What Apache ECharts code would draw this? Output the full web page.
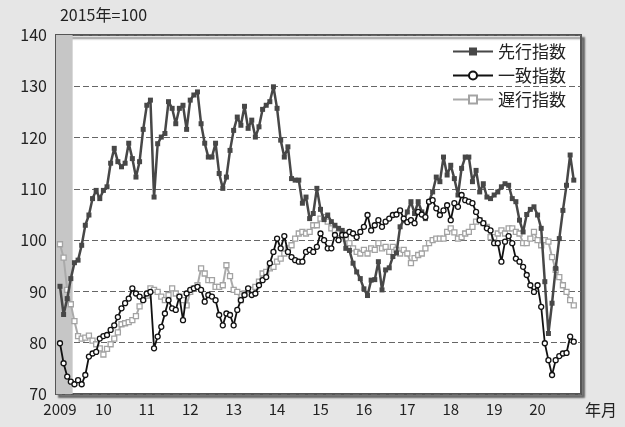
<!DOCTYPE html>
<html><head><meta charset="utf-8">
<script src="https://cdn.jsdelivr.net/npm/echarts@6/dist/echarts.min.js"></script>
<style>html,body{margin:0;padding:0;background:#e6e6e6}#c{width:625px;height:427px}</style>
</head><body><div id="c"></div>
<script>
const xTickLabels = ['2009','10','11','12','13','14','15','16','17','18','19','20'];
const seriesNames = ['先行指数','一致指数','遅行指数'];
// monthly values, Jan 2009 - Nov 2020
const leading = [91,85.5,88.6,92.5,95.6,96.1,99,102.9,104.9,108.1,109.7,108.1,
109.7,110.4,115,117.9,115.3,114.3,115,118.9,115.9,112.3,115.3,121.6,
126.3,127.3,108.4,118.8,120.1,120.8,127,125.7,122.7,125.7,126.3,121.6,
127.3,128.3,128.9,122.7,118.9,116.2,116.2,118.9,113,110.1,112.3,117.5,
121.4,124,122.4,126.1,121.8,123.4,120.1,122.1,125.5,126.3,127,129.9,
125.7,119.5,116.2,118.2,112,111.7,111.7,107.2,108.4,104.2,105.2,110.1,
106,104,104.9,103.6,102.9,102.3,101.9,98.4,98,95.5,93.8,92.5,
90.5,89.2,92.2,92.3,95.8,90.3,94.2,94.6,96.8,97.5,102.6,103.9,
105.5,107.5,105.2,107.5,105.5,104.2,107.5,109.4,112.3,111.4,116.2,112.7,
114.6,112,108.8,114,116.2,116.2,111.4,113.6,109.4,111,108.4,108.1,
108.8,109.4,110.4,111,110.7,108.1,107.5,103.9,101.6,105,106,106.5,
104.9,102.3,91.9,81.8,87.7,94.5,100.3,105.8,110.7,116.6,111.7];
const coincident = [79.9,76,73.4,72.4,71.9,72.7,71.9,73.7,77.3,77.9,78.2,80.8,
81.3,81.5,82.5,83.4,85,86.7,87.7,88.6,90.6,89.6,89,88.3,
89.6,89.9,78.9,81.2,83.1,85.7,88.3,86.7,86.4,89,84.4,89.6,
90.3,90.6,90.9,90.3,88,89.3,89,88.3,85.4,83.4,85.7,85.4,
83.4,86.4,88.3,89.3,90.6,89.3,89.6,91.2,92.2,92.8,95.5,97.7,
100.3,98.4,100.8,97.7,96.7,96.1,95.8,95.8,97.7,98.1,97.7,98.7,
101.3,100,98.4,98.4,101,100,101,101,101.6,101.3,100.6,101.6,
102.6,104.9,101.9,102.9,103.9,102.6,103.6,104.2,104.9,105,105.8,104.2,
103.5,103.9,103.3,105.5,105,104.5,107.5,107.8,106.2,104.9,105.8,106.8,
103.9,107.2,106.5,108.8,107.8,107.5,107.2,105.5,103.9,103.3,102.3,101.9,
99.4,99.4,95.8,99.7,100.8,99.4,96.4,95.8,94.8,93.2,91.2,89.9,
91.2,87,79.9,76.6,73.7,76.6,77.4,77.9,78,81.2,80.2];
const lagging = [99.2,96.6,90.3,87.5,84.2,81.3,80.8,81,81.4,80.4,79.7,78.9,
77.7,78.8,79.7,80.8,82,83.6,83.8,84,84.4,85.2,87.1,88.6,
89.2,90.6,90.3,89.9,89,88.3,89.3,90.6,89.6,89,88.3,87.3,
89.9,90.6,91.2,94.5,93.5,92.2,92.2,90.9,90.9,91.2,95.1,93,
90.3,89.9,88.3,89.6,90.3,90.3,90.9,91.9,93.5,93.8,94.5,94.8,
95.8,96.4,97.4,98.4,99,100.3,101.3,101.6,101.3,101.6,102.9,102.9,
104.2,104.5,103.6,102.3,101.9,101.3,101.3,100.3,99.4,98.4,97.7,97.4,
98.1,97.4,98.4,98.1,99.4,98.4,98.7,97.7,98.7,98.1,97.4,98.1,
97.4,95.5,96.5,97.1,97.4,98.4,99.4,100,100.3,100.3,100.3,101.6,
102.3,101.5,100.3,100.6,101.3,101.6,102.6,103.6,103.9,103.3,102.6,100.6,
100.6,101.3,101.9,101.3,102.3,102.3,101.6,101.3,99.4,99.4,100.3,101.6,
100,99,100,99.7,96.7,94.2,92.8,91.2,89.9,88.3,87.3];
const recession = [-1.1, 3.5]; // shaded period in month index units

const font = 'Noto Sans CJK JP';
const pairs = arr => arr.map((v, i) => [i, v]);
const chart = echarts.init(document.getElementById('c'), null, {renderer: 'canvas'});
chart.setOption({
  backgroundColor: '#e6e6e6',
  animation: false,
  textStyle: {fontFamily: font},
  grid: {left: 56, right: 44, top: 35, bottom: 33, show: true, backgroundColor: '#ffffff',
    borderColor: '#555', borderWidth: 2, shadowColor: 'rgba(0,0,0,0.45)', shadowOffsetX: 3, shadowOffsetY: 3, shadowBlur: 2},
  legend: {
    data: seriesNames, orient: 'vertical', right: 54, top: 38, itemWidth: 40, itemHeight: 10, itemGap: 7,
    textStyle: {fontSize: 17, color: '#222', fontFamily: font}
  },
  xAxis: {
    type: 'value', min: recession[0], max: 144,
    name: '年月', nameLocation: 'end', nameGap: 4,
    nameTextStyle: {fontSize: 16, color: '#222', verticalAlign: 'top', padding: [8, 0, 0, 0]},
    axisLine: {show: false}, axisTick: {show: false}, splitLine: {show: false},
    axisLabel: {customValues: xTickLabels.map((_, i) => i * 12), formatter: v => xTickLabels[Math.round(v / 12)],
      fontSize: 15, color: '#222', margin: 8}
  },
  yAxis: {
    type: 'value', min: 70, max: 140, interval: 10,
    name: '2015年=100', nameLocation: 'end', nameGap: 20,
    nameTextStyle: {fontSize: 16, color: '#222', align: 'left', verticalAlign: 'middle'},
    axisLine: {show: false}, axisTick: {show: false},
    axisLabel: {fontSize: 16, color: '#222', margin: 9},
    splitLine: {lineStyle: {color: '#666', type: [6, 3], width: 1}}
  },
  series: [
    {name: seriesNames[2], type: 'line', data: pairs(lagging), symbol: 'rect', symbolSize: 5, showAllSymbol: true,
      lineStyle: {color: '#aaaaaa', width: 2}, itemStyle: {color: '#ffffff', borderColor: '#a3a3a3', borderWidth: 1.3},
      color: '#aaaaaa',
      markArea: {silent: true, itemStyle: {color: '#c6c6c6'}, data: [[{xAxis: recession[0]}, {xAxis: recession[1]}]]}, z: 2},
    {name: seriesNames[0], type: 'line', data: pairs(leading), symbol: 'rect', symbolSize: 5, showAllSymbol: true,
      lineStyle: {color: '#474747', width: 2.5}, itemStyle: {color: '#474747'}, color: '#474747', z: 3},
    {name: seriesNames[1], type: 'line', data: pairs(coincident), symbol: 'circle', symbolSize: 5, showAllSymbol: true,
      lineStyle: {color: '#111111', width: 1.8}, itemStyle: {color: '#ffffff', borderColor: '#111111', borderWidth: 1.3},
      color: '#111111', z: 4}
  ]
});
</script></body></html>
